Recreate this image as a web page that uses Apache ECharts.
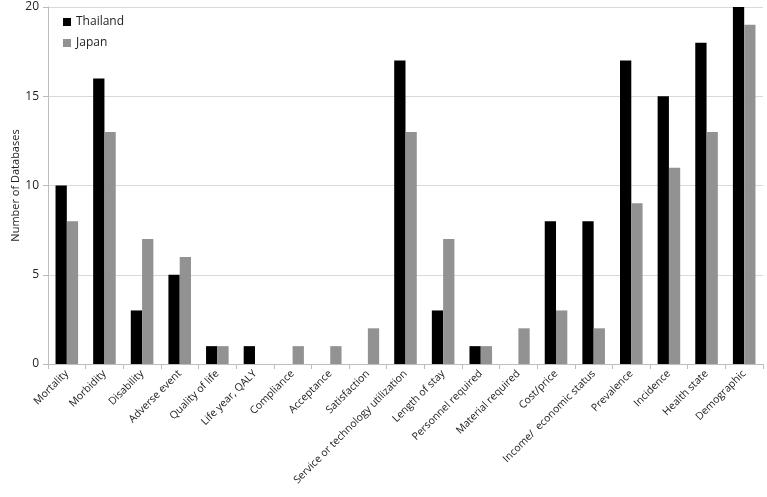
<!DOCTYPE html>
<html>
<head>
<meta charset="utf-8">
<script src="https://cdn.jsdelivr.net/npm/echarts@6/dist/echarts.min.js"></script>
<style>
  html, body { margin: 0; padding: 0; background: #fff; }
  #chart { width: 767px; height: 497px; }
</style>
</head>
<body>
<div id="chart"></div>
<script>
// categories and values
const categories = ['Mortality', 'Morbidity', 'Disability', 'Adverse event', 'Quality of life',
  'Life year, QALY', 'Compliance', 'Acceptance', 'Satisfaction', 'Service or technology utilization',
  'Length of stay', 'Personnel required', 'Material required', 'Cost/price', 'Income/  economic status',
  'Prevalence', 'Incidence', 'Health state', 'Demographic'];
const thailand = [10, 16, 3, 5, 1, 1, 0, 0, 0, 17, 3, 1, 0, 8, 8, 17, 15, 18, 20];
const japan = [8, 13, 7, 6, 1, 0, 1, 1, 2, 13, 7, 1, 2, 3, 2, 9, 11, 13, 19];
const yTicks = [0, 5, 10, 15, 20];

const font = 'Open Sans, Liberation Sans, sans-serif';

let option = {
    backgroundColor: '#fff',
    animation: false,
    legend: {
        orient: 'vertical',
        left: 58,
        top: 11,
        itemWidth: 8,
        itemHeight: 8,
        itemGap: 9,
        icon: 'rect',
        textStyle: { color: '#222', fontSize: 12, fontFamily: font },
        data: ['Thailand', 'Japan']
    },
    grid: { left: 48, right: 4, top: 7, bottom: 133, containLabel: false, outerBoundsMode: 'none' },
    xAxis: {
        type: 'category',
        data: categories,
        axisLine: { lineStyle: { color: '#bdbdbd' } },
        axisTick: { show: true, alignWithLabel: false, length: 5, lineStyle: { color: '#bdbdbd' } },
        axisLabel: {
            interval: 0,
            rotate: 45,
            color: '#222',
            fontSize: 10.5,
            fontFamily: font,
            margin: 8
        }
    },
    yAxis: {
        type: 'value',
        min: 0,
        max: yTicks[yTicks.length - 1],
        interval: 5,
        name: 'Number of Databases',
        nameLocation: 'middle',
        nameGap: 27,
        nameMoveOverlap: false,
        nameTextStyle: { color: '#222', fontSize: 11, fontFamily: font },
        axisLine: { show: true, lineStyle: { color: '#bdbdbd' } },
        axisTick: { show: true, length: 5, lineStyle: { color: '#bdbdbd' } },
        axisLabel: { color: '#222', fontSize: 12, fontFamily: font, margin: 9 },
        splitLine: { lineStyle: { color: '#d9d9d9' } }
    },
    series: [
        {
            name: 'Thailand',
            type: 'bar',
            data: thailand,
            barGap: '0%',
            barCategoryGap: '40%',
            itemStyle: { color: '#000' }
        },
        {
            name: 'Japan',
            type: 'bar',
            data: japan,
            itemStyle: { color: '#929292' }
        }
    ]
};

let myChart = echarts.init(document.getElementById('chart'));
myChart.setOption(option);
</script>
</body>
</html>
